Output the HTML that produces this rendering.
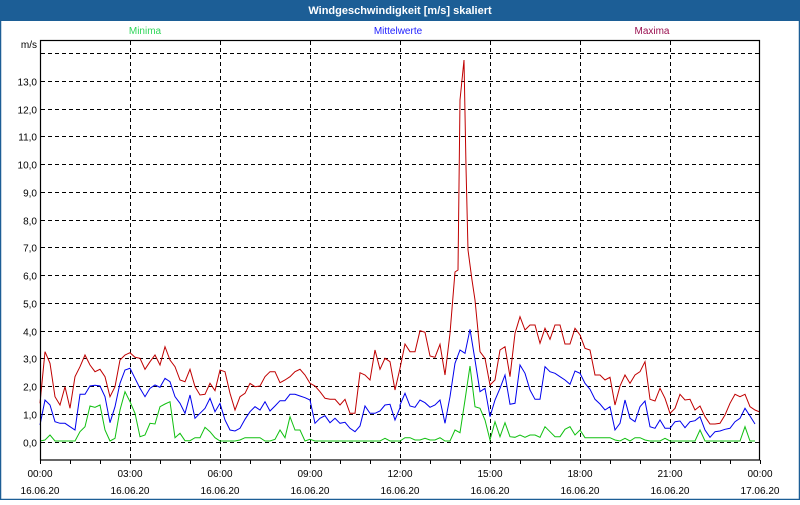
<!DOCTYPE html>
<html><head><meta charset="utf-8"><style>
body{margin:0;width:800px;height:500px;overflow:hidden;background:#fff;font-family:"Liberation Sans",sans-serif}
</style></head><body>
<svg id="s" width="800" height="500" xmlns="http://www.w3.org/2000/svg" font-family="Liberation Sans, sans-serif">
<rect x="0" y="0" width="800" height="500" fill="#fff"/>
<rect x="0" y="0" width="800" height="21" fill="#1c5e96"/>
<rect x="0.5" y="0.5" width="799" height="499" fill="none" stroke="#1c5e96" stroke-width="1.5"/>
<text x="400" y="14" fill="#fff" font-size="11" font-weight="bold" text-anchor="middle">Windgeschwindigkeit [m/s] skaliert</text>
<text x="145" y="34" fill="#2fd65a" font-size="10" text-anchor="middle">Minima</text>
<text x="398" y="34" fill="#2020ff" font-size="10" text-anchor="middle">Mittelwerte</text>
<text x="652" y="34" fill="#9a1050" font-size="10" text-anchor="middle">Maxima</text>
<text x="37" y="48" fill="#000" font-size="10" text-anchor="end">m/s</text>
<g id="grid" stroke="#000" stroke-width="1" stroke-dasharray="4,3"></g>
<g id="lbl" font-size="10" fill="#000"></g>
<g id="ser" fill="none" stroke-width="1"></g>
<rect x="40.5" y="40.5" width="719" height="419.5" fill="none" stroke="#000" stroke-width="1.2"/>
<g id="ticks" stroke="#000"></g>
</svg>
<script>
var NS="http://www.w3.org/2000/svg";
function el(p,t,a,txt){var e=document.createElementNS(NS,t);for(var k in a)e.setAttribute(k,a[k]);if(txt)e.textContent=txt;document.getElementById(p).appendChild(e);}
for(var v=0;v<=14;v++){var y=Math.round(441.5-v*27.73)+0.5;el("grid","line",{x1:41,x2:759,y1:y,y2:y});
 if(v<14)el("lbl","text",{x:37,y:y+4,"text-anchor":"end"},v+",0");}
for(var i=1;i<8;i++){var x=40+i*90+0.5;el("grid","line",{x1:x,x2:x,y1:41,y2:459});}
for(var i=0;i<=24;i++){var x=40+i*30+0.5;el("ticks","line",{x1:x,x2:x,y1:460,y2:464});}
var tl=["00:00","03:00","06:00","09:00","12:00","15:00","18:00","21:00","00:00"];
for(var i=0;i<9;i++){var x=40+i*90;el("lbl","text",{x:x,y:477,"text-anchor":"middle"},tl[i]);el("lbl","text",{x:x,y:494,"text-anchor":"middle"},i==8?"17.06.20":"16.06.20");}
function conv(a,off){var r=[];for(var i=0;i<a.length;i+=2)r.push([off+a[i]/3,300+a[i+1]/3]);return r;}
var r1=[0,310,15,155,30,190,45,290,60,315,75,260,90,325,105,230,120,200,135,165,150,195,165,215,180,208,195,230,210,290,225,260,240,180,255,165,270,158,285,172,300,175,315,208,330,185,345,165,360,195,375,140,390,180,405,200,420,240,435,245,450,208,465,260,480,285,495,283,510,250,525,272,540,210,555,215,570,280,585,330,600,290,615,280,630,250,645,260,660,258,675,230,690,215,705,215,720,248,735,240,750,230,765,215,780,208,795,225,810,250,825,258,840,275,855,295,870,298,885,298,900,315,915,298,930,340,945,340,960,218,975,225,990,240,1005,150,1020,208,1035,175,1050,185,1065,270,1080,205];
var r2=[0,205,15,132,30,155,45,155,60,92,75,97,90,168,105,172,120,133,135,225,150,100,165,-84,174,-90,180,-600,186,-660,192,-720,198,-400,204,-150,216,-60,225,0,240,155,255,175,270,255,285,240,300,150,315,140,330,230,345,100,360,50,375,90,390,75,405,75,420,130,435,85,450,118,465,75,480,75,495,132,510,132,525,85,540,105,555,145,570,150,585,225,600,225,615,240,630,232,645,315,660,258,675,225,690,250,705,225,720,215,735,185,750,298,765,303,780,265,795,295,810,340,825,325,840,283,855,300,870,298,885,330,900,318,915,350,930,372,945,372,960,370,975,345,990,310,1005,283,1020,290,1035,283,1050,320,1065,330,1077,335];
var b1=[0,375,15,300,30,315,45,365,60,370,75,370,90,380,105,390,120,283,135,283,150,258,165,256,180,258,195,290,210,368,225,320,240,250,255,210,270,205,285,235,300,265,315,290,330,265,345,255,360,262,375,235,390,245,405,290,420,310,435,340,450,285,465,355,480,340,495,325,510,295,525,335,540,310,555,360,570,390,585,393,600,385,615,358,630,335,645,320,660,330,675,305,690,333,705,318,720,302,735,302,750,283,765,283,780,288,795,293,810,300,825,370,840,355,855,347,870,368,885,355,900,370,915,367,930,385,945,395,960,378,975,318,990,340,1005,340,1020,333,1035,315,1050,313,1065,360,1080,323];
var b2=[0,315,15,280,30,318,45,322,60,300,75,308,90,322,105,315,120,300,135,370,150,290,165,190,180,150,195,160,210,88,225,180,240,275,255,265,270,350,285,300,300,265,315,225,330,313,345,310,360,195,375,220,390,270,405,298,420,298,435,200,450,215,465,220,480,230,495,240,510,253,525,213,540,220,555,250,570,268,585,298,600,312,615,330,630,320,645,390,660,370,675,300,690,355,705,365,720,320,735,303,750,380,765,385,780,360,795,385,810,385,825,365,840,363,855,383,870,365,885,362,900,350,915,390,930,412,945,395,960,393,975,388,990,385,1005,365,1020,355,1035,325,1050,348,1065,372];
var g1=[0,423,15,420,30,405,45,423,105,423,120,395,135,380,150,318,165,322,180,315,195,390,210,423,225,415,240,330,255,275,270,305,285,340,300,410,315,405,330,370,345,372,360,320,375,312,390,305,405,413,420,400,435,422,450,422,465,413,480,413,495,382,510,395,525,413,540,423,585,423,600,420,615,413,660,413,675,423,690,423,705,418,720,390,735,413,750,350,765,390,780,390,795,423,810,418,825,423,1020,423,1035,415,1050,423,1080,423];
var g2=[0,423,15,413,30,413,45,420,60,420,75,415,90,420,105,420,120,413,135,423,150,423,165,390,180,398,195,300,210,198,225,320,240,325,255,360,270,420,285,365,300,410,315,368,330,410,345,412,360,405,375,412,390,405,405,405,420,412,435,380,450,395,465,410,480,410,495,388,510,380,525,405,540,390,555,413,630,413,645,420,660,423,675,415,690,423,705,413,720,413,735,420,750,423,780,423,795,415,810,423,885,423,900,390,915,423,1020,423,1035,380,1050,423,1065,423];
function pl(a,c){el("ser","polyline",{points:a.map(function(p){return p[0].toFixed(1)+","+p[1].toFixed(1)}).join(" "),stroke:c});}
pl(conv(g1,40).concat(conv(g2,400)),"#10c010");
pl(conv(b1,40).concat(conv(b2,400)),"#0000ee");
pl(conv(r1,40).concat(conv(r2,400)),"#c00000");
</script>
</body></html>
